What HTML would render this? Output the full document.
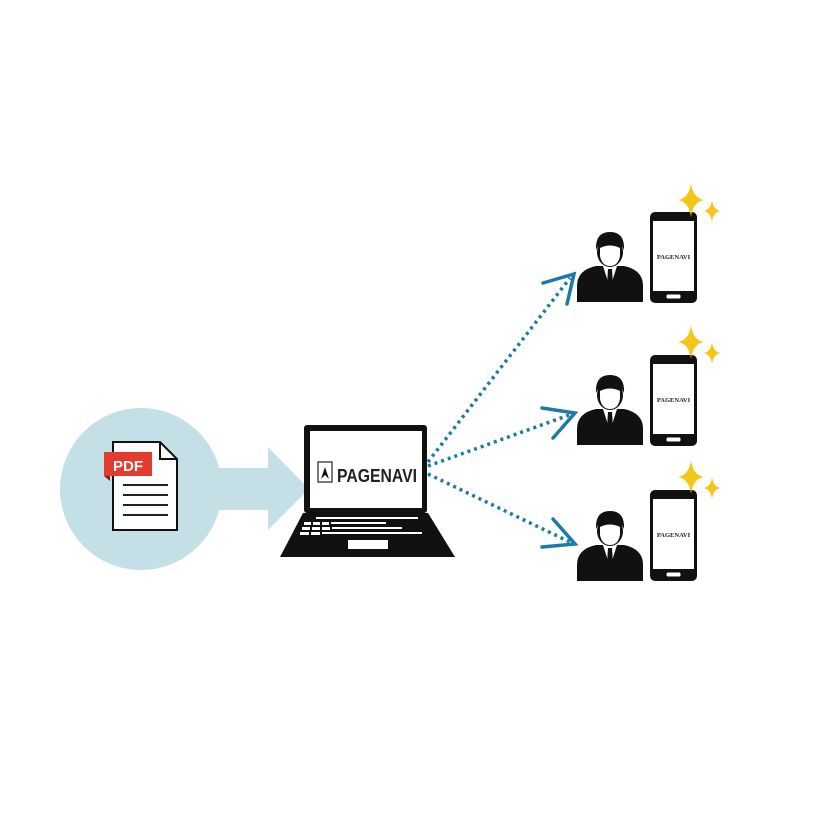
<!DOCTYPE html>
<html><head><meta charset="utf-8"><style>html,body{margin:0;padding:0;background:#fff}svg{display:block}</style></head>
<body>
<svg width="833" height="834" viewBox="0 0 833 834" xmlns="http://www.w3.org/2000/svg">
<defs>
<g id="person">
 <path d="M-33,50 L-33,34 Q-33,18 -14,14 L14,14 Q33,18 33,34 L33,50 Z" fill="#111"/>
 <path d="M-7,14 L0,36 L7,14 Z" fill="#fff"/>
 <path d="M-2,17 L2,17 L3,32 L0,36 L-3,32 Z" fill="#111"/>
 <ellipse cx="0" cy="0" rx="13" ry="15" fill="#111"/>
 <path d="M-14,-2 Q-15,-20 0,-20 Q15,-20 14,-2 L12,-6 Q0,-12 -12,-6 Z" fill="#111"/>
 <path d="M-10,-4 Q0,-9 10,-4 L10,4 Q8,14 0,14 Q-8,14 -10,4 Z" fill="#fff"/>
</g>
<g id="phone">
 <rect x="0" y="0" width="47" height="91" rx="5" fill="#111"/>
 <rect x="3" y="9" width="41" height="70" fill="#fff"/>
 <rect x="16" y="82" width="15" height="5" rx="2" fill="#fff" stroke="#111"/>
 <text x="23.5" y="47" font-family="Liberation Serif, serif" font-size="6.5" font-weight="bold" text-anchor="middle" fill="#222">PAGENAVI</text>
</g>
<g id="spark">
 <path d="M0,-13 Q1.5,-1.5 10,0 Q1.5,1.5 0,13 Q-1.5,1.5 -10,0 Q-1.5,-1.5 0,-13 Z" fill="#f5c518"/>
</g>
</defs>
<circle cx="141" cy="489" r="81" fill="#c5dfe7"/>
<rect x="210" y="468" width="60" height="42" fill="#c5dfe7"/>
<polygon points="268,447 309,489 268,530" fill="#c5dfe7"/>
<path d="M113,442 L160,442 L177,459 L177,530 L113,530 Z" fill="#fff" stroke="#111" stroke-width="2"/>
<path d="M160,442 L160,459 L177,459" fill="none" stroke="#111" stroke-width="2"/>
<rect x="104" y="452" width="48" height="24" fill="#e23b2f"/>
<path d="M104,476 L110,476 L110,481 Z" fill="#8e1d16"/>
<text x="128" y="471" font-family="Liberation Sans, sans-serif" font-size="15" font-weight="bold" text-anchor="middle" fill="#fff">PDF</text>
<g stroke="#222" stroke-width="2"><line x1="123" y1="485" x2="168" y2="485"/><line x1="123" y1="495" x2="168" y2="495"/><line x1="123" y1="505" x2="168" y2="505"/><line x1="123" y1="515" x2="168" y2="515"/></g>
<rect x="304" y="425" width="123" height="88" rx="3" fill="#111"/>
<rect x="310" y="431" width="112" height="77" fill="#fff"/>
<polygon points="303,513 428,513 455,557 280,557" fill="#111"/>
<rect x="316" y="517" width="102" height="2" fill="#fff"/>
<g fill="#fff"><rect x="304" y="522" width="7" height="3"/><rect x="313" y="522" width="7" height="3"/><rect x="322" y="522" width="7" height="3"/><rect x="331" y="522" width="55" height="2"/>
<rect x="302" y="527" width="8" height="3"/><rect x="312" y="527" width="8" height="3"/><rect x="322" y="527" width="8" height="3"/><rect x="332" y="527" width="70" height="2"/>
<rect x="300" y="532" width="9" height="3"/><rect x="311" y="532" width="9" height="3"/><rect x="322" y="532" width="100" height="2"/>
<rect x="348" y="540" width="40" height="9"/></g>
<rect x="318" y="462" width="14" height="20" fill="#fff" stroke="#333" stroke-width="1.3"/>
<path d="M321,479 L325,467 L329,479 L325,475 Z" fill="#111"/>
<text x="337" y="482" font-family="Liberation Sans Narrow, Liberation Sans, sans-serif" font-size="18" font-weight="bold" fill="#222" textLength="80" lengthAdjust="spacingAndGlyphs">PAGENAVI</text>
<g stroke="#1b7ba6" stroke-width="3.5" stroke-dasharray="3 4" fill="none">
<line x1="428" y1="462" x2="570" y2="278"/>
<line x1="428" y1="466" x2="572" y2="414"/>
<line x1="428" y1="474" x2="572" y2="543"/>
</g>
<g stroke="#1b7ba6" stroke-width="3.5" fill="none" stroke-linecap="round">
<polyline points="543,283 574,274 567,304"/>
<polyline points="542,408 575,413 553,438"/>
<polyline points="553,519 575,544 542,547"/>
</g>
<use href="#person" x="610" y="252"/>
<use href="#person" x="610" y="395"/>
<use href="#person" x="610" y="531"/>
<use href="#phone" x="650" y="212"/>
<use href="#phone" x="650" y="355"/>
<use href="#phone" x="650" y="490"/>
<use href="#spark" transform="translate(691,200) scale(1.3)"/><use href="#spark" transform="translate(712,211) scale(0.85)"/>
<use href="#spark" transform="translate(691,342) scale(1.3)"/><use href="#spark" transform="translate(712,353) scale(0.85)"/>
<use href="#spark" transform="translate(691,477) scale(1.3)"/><use href="#spark" transform="translate(712,488) scale(0.85)"/>
</svg>
</body></html>
